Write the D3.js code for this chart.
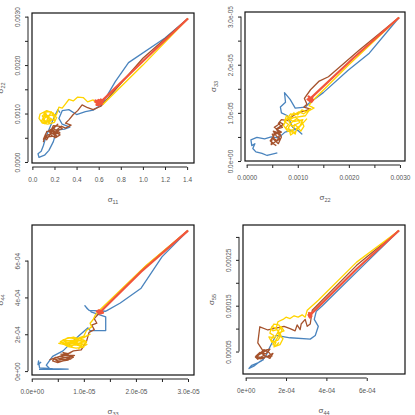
<!DOCTYPE html>
<html>
<head>
<meta charset="utf-8">
<script src="https://cdn.jsdelivr.net/npm/d3@7"></script>
<style>
  body { margin: 0; background: #fff; }
  svg { display: block; font-family: "Liberation Sans", Arial, sans-serif; }
  .tick text { fill: #555; font-size: 6.5px; }
  .tick line { stroke: #222; }
</style>
</head>
<body>
<div id="chart"></div>
<script>
// four chains per panel, trace of (x, y) draws; all start at the same point
var chainColors = ["#4a84be", "#a5522c", "#ffd400", "#f2553c"];   // blue, brown, gold, red

// panel 1: sigma11 vs sigma22
var p1Blue = [[1.408,0.00296],[1.2,0.00256],[0.87,0.00205],[0.75,0.00166],[0.63,0.00119],[0.55,0.00107],[0.48,0.00104],[0.4,0.00098],[0.33,0.00108],[0.27,0.00106],[0.24,0.0009],[0.27,0.00078],[0.34,0.00072],[0.29,0.00068],[0.22,0.00066],[0.19,0.00042],[0.15,0.00024],[0.11,0.00014],[0.06,0.000094],[0.051,0.00017],[0.08,0.00022],[0.1,0.00034],[0.12,0.0005],[0.16,0.00072],[0.2,0.00094],[0.23,0.00108],[0.25,0.00102]];
var p1Brown = [[1.408,0.00296],[1.0,0.00214],[0.62,0.00115],[0.55,0.00108],[0.5,0.00112],[0.45,0.00118],[0.41,0.00106],[0.37,0.00098],[0.33,0.00087],[0.3,0.0008],[0.35,0.00076],[0.3,0.0007],[0.26,0.00074],[0.22,0.00066],[0.25,0.0006],[0.2,0.00057],[0.18,0.00068],[0.23,0.00078],[0.2,0.00071],[0.16,0.00061],[0.22,0.00054],[0.14,0.00052],[0.1,0.00047],[0.12,0.00058],[0.1,0.00042],[0.13,0.00063],[0.18,0.00064],[0.21,0.0006],[0.24,0.00066],[0.27,0.00069],[0.24,0.00074],[0.19,0.00075],[0.17,0.00066],[0.21,0.00062],[0.25,0.00056],[0.21,0.0005],[0.17,0.00055],[0.15,0.00065],[0.19,0.0007],[0.23,0.00062],[0.19,0.00059],[0.14,0.00056],[0.11,0.0005],[0.13,0.00046],[0.16,0.00057],[0.2,0.00066]];
var p1Gold = [[1.408,0.00296],[1.0,0.002],[0.64,0.00119],[0.58,0.00121],[0.55,0.00128],[0.5,0.00124],[0.46,0.00133],[0.41,0.00134],[0.37,0.00126],[0.33,0.00129],[0.3,0.0012],[0.27,0.00111],[0.24,0.00113],[0.22,0.00099],[0.2,0.00092],[0.17,0.00104],[0.14,0.00089],[0.12,0.00099],[0.09,0.00088],[0.12,0.0008],[0.1,0.00093],[0.15,0.00096],[0.13,0.00085],[0.18,0.00088],[0.15,0.00081],[0.11,0.00086],[0.09,0.00095],[0.12,0.00101],[0.14,0.00093],[0.2,0.00085],[0.19,0.00101],[0.13,0.00106],[0.07,0.00099],[0.06,0.0009],[0.09,0.0008],[0.14,0.00078],[0.2,0.00082],[0.22,0.00092],[0.17,0.00097],[0.12,0.00092],[0.08,0.00085],[0.11,0.00079],[0.16,0.00086],[0.1,0.00102],[0.15,0.00104],[0.21,0.00097]];
var p1Red = [[1.408,0.00296],[1.0,0.00208],[0.62,0.00124],[0.6,0.00128],[0.57,0.00124],[0.63,0.0012],[0.58,0.00118],[0.62,0.00129],[0.59,0.00121],[0.64,0.00126],[0.6,0.00117],[0.57,0.00127],[0.61,0.00123]];

// panel 2: sigma22 vs sigma33
var p2Blue = [[0.002983,2.98e-5],[0.0024,2.24e-5],[0.00198,1.88e-5],[0.0015,1.42e-5],[0.00122,1.2e-5],[0.00115,1.12e-5],[0.00095,1.1e-5],[0.00085,1.28e-5],[0.00074,1.42e-5],[0.00076,1.22e-5],[0.00066,1.12e-5],[0.00068,1.0e-5],[0.0008,9.4e-6],[0.0009,7.0e-6],[0.00102,6.2e-6],[0.00108,5.6e-6],[0.00098,6.6e-6],[0.00075,6.0e-6],[0.00062,4.8e-6],[0.00048,5.0e-6],[0.00035,4.6e-6],[0.0002,4.9e-6],[0.000083,4.4e-6],[0.0001,3.2e-6],[0.00016,3.6e-6],[0.00012,2.6e-6],[0.00018,1.9e-6],[0.0003,1.6e-6],[0.0004,1.15e-6],[0.00052,1.5e-6],[0.0006,1.7e-6]];
var p2Brown = [[0.002983,2.98e-5],[0.0022,2.3e-5],[0.0016,1.75e-5],[0.00142,1.66e-5],[0.00125,1.48e-5],[0.00113,1.3e-5],[0.00118,1.18e-5],[0.00112,1.12e-5],[0.00125,1.08e-5],[0.001,1.0e-5],[0.00088,9.2e-6],[0.0008,8.4e-6],[0.00068,8.6e-6],[0.00062,7.8e-6],[0.0007,7.0e-6],[0.00058,6.6e-6],[0.00064,5.8e-6],[0.00052,6.2e-6],[0.00058,5.2e-6],[0.00066,4.6e-6],[0.00056,4.0e-6],[0.00048,3.4e-6],[0.0005,4.8e-6],[0.00062,3.6e-6],[0.00068,5.0e-6],[0.0006,6.8e-6],[0.00072,7.6e-6],[0.00066,8.0e-6],[0.0006,7.4e-6],[0.00054,7.0e-6],[0.00062,6.4e-6],[0.00068,6.0e-6],[0.00056,5.6e-6],[0.0005,5.6e-6],[0.00054,4.6e-6],[0.0006,4.2e-6],[0.00064,5.4e-6],[0.00058,6.0e-6],[0.00046,4.2e-6],[0.00052,3.6e-6],[0.00058,3.2e-6]];
var p2Gold = [[0.002983,2.98e-5],[0.002,2.0e-5],[0.00128,1.24e-5],[0.00122,1.15e-5],[0.00132,1.1e-5],[0.00118,1.02e-5],[0.00108,1.06e-5],[0.001,9.6e-6],[0.00092,1.0e-5],[0.00085,9.0e-6],[0.00078,9.4e-6],[0.00074,8.2e-6],[0.00082,7.6e-6],[0.00076,6.8e-6],[0.00088,6.4e-6],[0.00095,5.6e-6],[0.00098,6.8e-6],[0.00105,7.4e-6],[0.0011,8.6e-6],[0.00092,8.2e-6],[0.00084,8.6e-6],[0.00096,9.2e-6],[0.00104,8.0e-6],[0.00088,7.2e-6],[0.0008,8.8e-6],[0.00115,9.4e-6],[0.00124,1.08e-5],[0.00112,9.8e-6],[0.00102,1.02e-5],[0.00094,9.6e-6],[0.00086,9.8e-6],[0.00078,8.6e-6],[0.00072,7.4e-6],[0.0008,6.2e-6],[0.0009,6.0e-6],[0.00094,7.6e-6],[0.001,7.0e-6],[0.00106,6.2e-6],[0.00112,7.2e-6],[0.00108,8.2e-6],[0.00098,8.8e-6],[0.00088,8.0e-6],[0.00082,7.0e-6],[0.00086,5.4e-6],[0.00096,6.2e-6],[0.00118,8.8e-6]];
var p2Red = [[0.002983,2.98e-5],[0.0021,2.15e-5],[0.00125,1.3e-5],[0.00121,1.34e-5],[0.0013,1.27e-5],[0.00127,1.23e-5],[0.00119,1.28e-5],[0.00129,1.33e-5],[0.00123,1.25e-5],[0.00126,1.31e-5]];

// panel 3: sigma33 vs sigma44
var p3Blue = [[3.0e-5,7.63e-4],[2.5e-5,6.2e-4],[2.1e-5,4.5e-4],[1.7e-5,3.7e-4],[1.45e-5,3.3e-4],[1.42e-5,3.25e-4],[1.1e-5,3.3e-4],[1.02e-5,3.55e-4],[1.06e-5,3.4e-4],[1.15e-5,3.2e-4],[1.42e-5,2.95e-4],[1.42e-5,2.2e-4],[1.12e-5,2.2e-4],[1.08e-5,2.35e-4],[9e-6,1.9e-4],[7.8e-6,1.6e-4],[6e-6,1.1e-4],[4e-6,8e-5],[2.8e-6,3.2e-5],[3.5e-6,1.2e-5],[1.5e-6,9e-6],[5e-6,1.0e-5],[7e-6,1.1e-5],[4e-6,1.3e-5],[1.5e-6,1.8e-5],[1.3e-6,5.5e-5],[1.2e-6,3.5e-5],[1.8e-6,5.0e-5]];
var p3Brown = [[3.0e-5,7.63e-4],[2.15e-5,5.6e-4],[1.28e-5,3.1e-4],[1.2e-5,2.85e-4],[1.25e-5,2.6e-4],[1.15e-5,2.5e-4],[1.2e-5,2.25e-4],[1.1e-5,2.1e-4],[1.05e-5,1.6e-4],[9.5e-6,1.15e-4],[8e-6,1.1e-4],[7e-6,9.5e-5],[6e-6,1.0e-4],[7.5e-6,8e-5],[5.5e-6,7e-5],[6.5e-6,6e-5],[4.5e-6,7.5e-5],[4e-6,5.5e-5],[5e-6,4.6e-5],[6e-6,5.5e-5],[7e-6,7e-5],[8.2e-6,8.5e-5],[6e-6,8.5e-5],[3.5e-6,6.2e-5],[7.5e-6,1.0e-4],[6.5e-6,9e-5],[5.5e-6,8e-5],[6.5e-6,7.5e-5],[7.5e-6,6.5e-5],[6e-6,6.5e-5],[5e-6,6e-5],[4.2e-6,6.8e-5],[5e-6,5.2e-5],[7e-6,6e-5],[8e-6,7.5e-5],[7e-6,8.8e-5],[5.5e-6,9.2e-5]];
var p3Gold = [[3.0e-5,7.63e-4],[2.2e-5,5.75e-4],[1.3e-5,3.3e-4],[1.22e-5,3.05e-4],[1.18e-5,2.8e-4],[1.12e-5,2.6e-4],[1.15e-5,2.4e-4],[1.05e-5,2.2e-4],[1.0e-5,1.9e-4],[8.5e-6,1.75e-4],[7e-6,1.82e-4],[5.5e-6,1.6e-4],[6.5e-6,1.45e-4],[8e-6,1.5e-4],[9.5e-6,1.38e-4],[1.05e-5,1.55e-4],[9e-6,1.65e-4],[7.5e-6,1.3e-4],[6e-6,1.7e-4],[8e-6,1.6e-4],[1.0e-5,1.7e-4],[9e-6,1.2e-4],[1.06e-5,1.45e-4],[7e-6,1.55e-4],[1.0e-5,1.82e-4],[1.12e-5,2.0e-4],[9.5e-6,1.78e-4],[8e-6,1.68e-4],[6.5e-6,1.62e-4],[5.2e-6,1.5e-4],[7e-6,1.4e-4],[8.5e-6,1.42e-4],[1e-5,1.3e-4],[8.5e-6,1.25e-4],[7e-6,1.33e-4],[6e-6,1.48e-4],[7.5e-6,1.58e-4],[9e-6,1.52e-4],[1.05e-5,1.62e-4],[9.5e-6,1.72e-4],[8e-6,1.85e-4],[6.5e-6,1.75e-4]];
var p3Red = [[3.0e-5,7.63e-4],[2.1e-5,5.4e-4],[1.32e-5,3.22e-4],[1.28e-5,3.3e-4],[1.37e-5,3.17e-4],[1.3e-5,3.12e-4],[1.25e-5,3.24e-4],[1.35e-5,3.28e-4],[1.29e-5,3.18e-4]];

// panel 4: sigma44 vs sigma55
var p4Blue = [[7.6e-4,3.14e-4],[6e-4,2.45e-4],[4.1e-4,1.63e-4],[3.8e-4,1.5e-4],[3.5e-4,1.38e-4],[3.4e-4,1.2e-4],[3.6e-4,1.05e-4],[3.45e-4,8.5e-5],[3.2e-4,7.7e-5],[2.2e-4,8e-5],[1.5e-4,8.5e-5],[1.2e-4,6e-5],[1.0e-4,4e-5],[8e-5,3e-5],[6e-5,2.5e-5],[3e-5,2e-5],[1.64e-5,1.3e-5],[4e-5,1.8e-5],[7e-5,2.8e-5],[9e-5,3.3e-5]];
var p4Brown = [[7.6e-4,3.14e-4],[5.5e-4,2.38e-4],[3.3e-4,1.4e-4],[3.2e-4,1.1e-4],[3.05e-4,1.05e-4],[2.95e-4,1.2e-4],[2.75e-4,1.1e-4],[2.7e-4,9.8e-5],[2.55e-4,1.08e-4],[2.45e-4,9.5e-5],[2.2e-4,1.0e-4],[1.9e-4,1.05e-4],[1.1e-4,9.7e-5],[7e-5,1.04e-4],[6e-5,6.9e-5],[8.5e-5,5.2e-5],[1.2e-4,5.5e-5],[1.0e-4,4.5e-5],[7e-5,4.8e-5],[5e-5,4e-5],[8e-5,3.6e-5],[1.1e-4,4e-5],[1.35e-4,4.6e-5],[1.2e-4,3.5e-5],[9e-5,4.2e-5],[6e-5,3.3e-5],[4.8e-5,3.8e-5],[1.0e-4,5.2e-5],[8e-5,4.6e-5],[1.05e-4,3.8e-5],[1.3e-4,4e-5],[1.15e-4,4.8e-5],[9e-5,5.4e-5],[6.5e-5,4.3e-5],[5.5e-5,3.6e-5],[7.5e-5,3.4e-5],[9.5e-5,3.6e-5]];
var p4Gold = [[7.6e-4,3.14e-4],[5.5e-4,2.45e-4],[3.6e-4,1.62e-4],[3.05e-4,1.4e-4],[2.95e-4,1.25e-4],[2.8e-4,1.3e-4],[2.6e-4,1.25e-4],[2.4e-4,1.28e-4],[2.2e-4,1.22e-4],[2.0e-4,1.25e-4],[1.85e-4,1.2e-4],[1.6e-4,1.15e-4],[1.5e-4,1.0e-4],[1.3e-4,1.05e-4],[1.2e-4,9e-5],[1.4e-4,8.5e-5],[1.25e-4,7.5e-5],[1.5e-4,7e-5],[1.4e-4,6e-5],[1.7e-4,6.5e-5],[1.85e-4,7.8e-5],[1.6e-4,9e-5],[1.9e-4,9.5e-5],[1.75e-4,1.05e-4],[1.45e-4,8e-5],[1.15e-4,8.2e-5],[1.3e-4,7e-5],[1.6e-4,7.5e-5],[1.75e-4,8.5e-5],[1.55e-4,9.8e-5],[1.35e-4,9.5e-5],[1.25e-4,1.0e-4],[1.4e-4,1.1e-4],[1.65e-4,1.08e-4],[1.8e-4,9.5e-5],[1.6e-4,8.2e-5],[1.35e-4,6.5e-5],[1.5e-4,6.2e-5],[1.65e-4,7e-5]];
var p4Red = [[7.6e-4,3.14e-4],[5.5e-4,2.3e-4],[3.2e-4,1.3e-4],[3.14e-4,1.34e-4],[3.26e-4,1.27e-4],[3.18e-4,1.24e-4],[3.11e-4,1.3e-4],[3.25e-4,1.34e-4],[3.2e-4,1.27e-4]];

// ticks and labels (labels only where R keeps them)
var p1XTicks = [0, 0.2, 0.4, 0.6, 0.8, 1.0, 1.2, 1.4];
var p1XLabels = ["0.0", "0.2", "0.4", "0.6", "0.8", "1.0", "1.2", "1.4"];
var p1YTicks = [0, 0.0005, 0.001, 0.0015, 0.002, 0.0025, 0.003];
var p1YLabels = ["0.0000", "", "0.0010", "", "0.0020", "", "0.0030"];
var p2XTicks = [0, 0.0005, 0.001, 0.0015, 0.002, 0.0025, 0.003];
var p2XLabels = ["0.0000", "", "0.0010", "", "0.0020", "", "0.0030"];
var p2YTicks = [0, 5e-6, 1e-5, 1.5e-5, 2e-5, 2.5e-5, 3e-5];
var p2YLabels = ["0.0e+00", "", "1.0e-05", "", "2.0e-05", "", "3.0e-05"];
var p3XTicks = [0, 5e-6, 1e-5, 1.5e-5, 2e-5, 2.5e-5, 3e-5];
var p3XLabels = ["0.0e+00", "", "1.0e-05", "", "2.0e-05", "", "3.0e-05"];
var p3YTicks = [0, 2e-4, 4e-4, 6e-4];
var p3YLabels = ["0e+00", "2e-04", "4e-04", "6e-04"];
var p4XTicks = [0, 2e-4, 4e-4, 6e-4];
var p4XLabels = ["0e+00", "2e-04", "4e-04", "6e-04"];
var p4YTicks = [5e-5, 1e-4, 1.5e-4, 2e-4, 2.5e-4, 3e-4];
var p4YLabels = ["0.00005", "", "0.00015", "", "0.00025", ""];

var axisTitles = [["11", "22"], ["22", "33"], ["33", "44"], ["44", "55"]];

var panels = [
    {box: [32, 194, 13, 163], chains: [p1Blue, p1Brown, p1Gold, p1Red], xt: p1XTicks, xl: p1XLabels, yt: p1YTicks, yl: p1YLabels},
    {box: [245, 405, 12, 161], chains: [p2Blue, p2Brown, p2Gold, p2Red], xt: p2XTicks, xl: p2XLabels, yt: p2YTicks, yl: p2YLabels},
    {box: [32, 194, 225, 375], chains: [p3Blue, p3Brown, p3Gold, p3Red], xt: p3XTicks, xl: p3XLabels, yt: p3YTicks, yl: p3YLabels},
    {box: [243, 405, 225, 374], chains: [p4Blue, p4Brown, p4Gold, p4Red], xt: p4XTicks, xl: p4XLabels, yt: p4YTicks, yl: p4YLabels}
];

var svg = d3.select("#chart").append("svg")
    .attr("width", 415)
    .attr("height", 415);

// R style range: data extent padded by 4% on each side
function padded(ext) {
    var r = ext[1] - ext[0];
    return [ext[0] - 0.04 * r, ext[1] + 0.04 * r];
}

function sigmaLabel(sel, sub) {
    sel.append("tspan").text("σ").style("font-size", "8px");
    sel.append("tspan").text(sub).attr("dy", 2).style("font-size", "5.5px");
}

panels.forEach(function (p, i) {
    var all = d3.merge(p.chains);
    var xScale = d3.scaleLinear()
        .domain(padded(d3.extent(all, function (d) { return d[0]; })))
        .range([p.box[0], p.box[1]]);
    var yScale = d3.scaleLinear()
        .domain(padded(d3.extent(all, function (d) { return d[1]; })))
        .range([p.box[3], p.box[2]]);

    var g = svg.append("g");

    var line = d3.line()
        .x(function (d) { return xScale(d[0]); })
        .y(function (d) { return yScale(d[1]); });

    g.selectAll("path.chain")
        .data(p.chains)
        .join("path")
        .attr("class", "chain")
        .attr("d", line)
        .style("fill", "none")
        .style("stroke", function (d, j) { return chainColors[j]; })
        .style("stroke-width", function (d, j) { return j == 3 ? 2.2 : 1.3; })
        .style("stroke-linejoin", "round");

    // box round the plot region
    g.append("rect")
        .attr("x", p.box[0]).attr("y", p.box[2])
        .attr("width", p.box[1] - p.box[0]).attr("height", p.box[3] - p.box[2])
        .style("fill", "none").style("stroke", "#111").style("stroke-width", 1.2);

    // x axis, a bit below the box
    var xAxisG = g.append("g")
        .attr("transform", "translate(0," + (p.box[3] + 4) + ")")
        .call(d3.axisBottom(xScale).tickValues(p.xt).tickSize(3).tickPadding(7)
            .tickFormat(function (d, k) { return p.xl[k]; }));
    xAxisG.select(".domain").remove();
    xAxisG.append("line")
        .attr("x1", xScale(p.xt[0])).attr("x2", xScale(p.xt[p.xt.length - 1]))
        .style("stroke", "#222");

    // y axis, a bit left of the box, labels turned
    var yAxisG = g.append("g")
        .attr("transform", "translate(" + (p.box[0] - 4) + ",0)")
        .call(d3.axisLeft(yScale).tickValues(p.yt).tickSize(3)
            .tickFormat(function (d, k) { return p.yl[k]; }));
    yAxisG.select(".domain").remove();
    yAxisG.selectAll(".tick text")
        .attr("transform", "rotate(-90)")
        .attr("x", 0).attr("y", -8).attr("dy", 0)
        .attr("text-anchor", "middle");
    yAxisG.append("line")
        .attr("y1", yScale(p.yt[0])).attr("y2", yScale(p.yt[p.yt.length - 1]))
        .style("stroke", "#222");

    // axis titles
    var cx = (p.box[0] + p.box[1]) / 2, cy = (p.box[2] + p.box[3]) / 2;
    g.append("text")
        .attr("x", cx).attr("y", p.box[3] + 39)
        .attr("text-anchor", "middle").style("fill", "#555")
        .call(sigmaLabel, axisTitles[i][0]);
    g.append("text")
        .attr("transform", "translate(" + (p.box[0] - 29) + "," + cy + ") rotate(-90)")
        .attr("text-anchor", "middle").style("fill", "#555")
        .call(sigmaLabel, axisTitles[i][1]);
});
</script>
</body>
</html>
